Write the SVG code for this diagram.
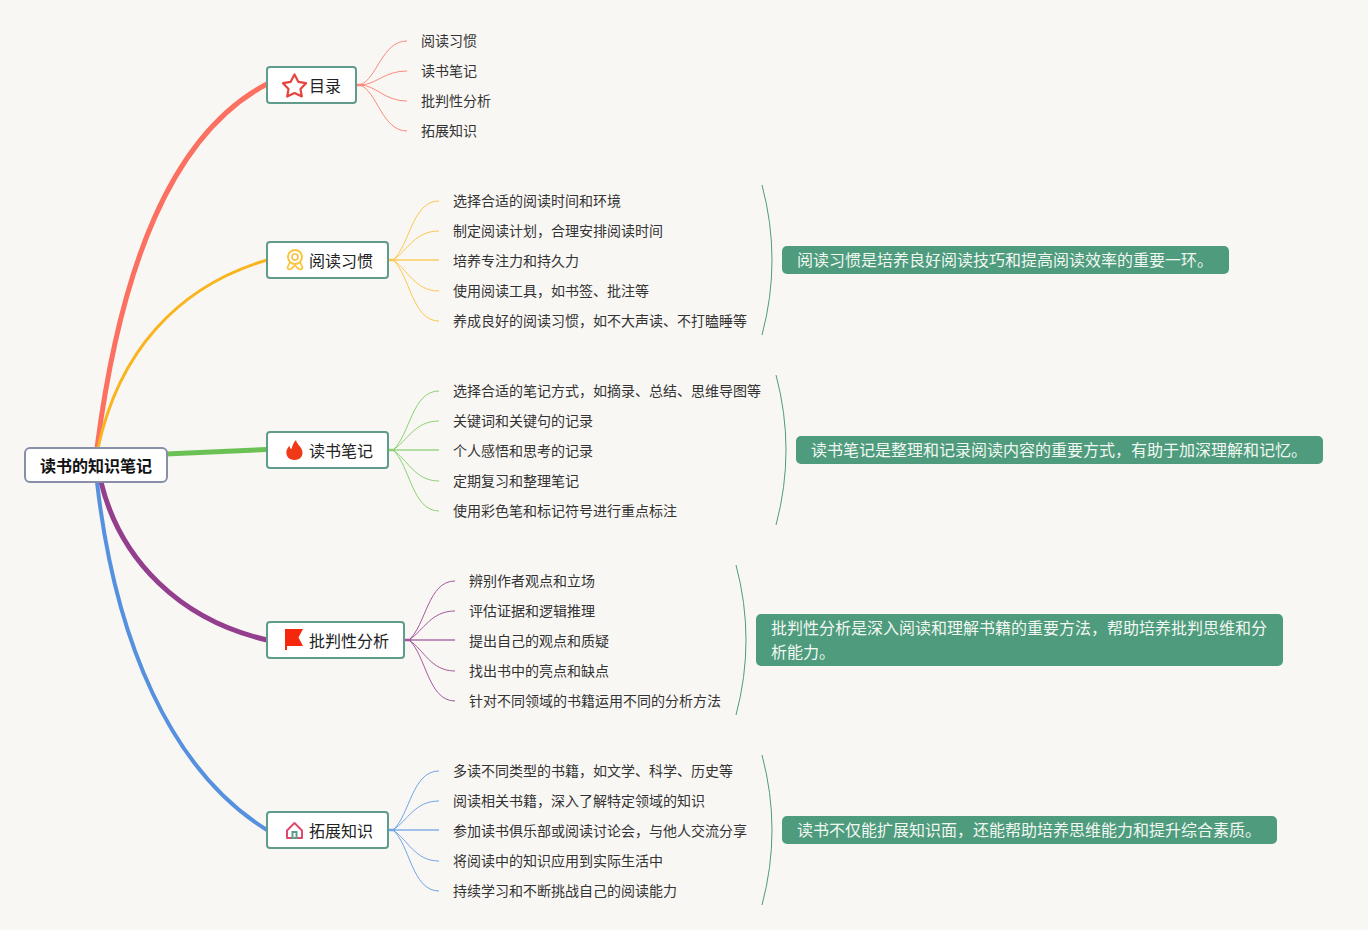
<svg xmlns="http://www.w3.org/2000/svg" width="1368" height="930" viewBox="0 0 1368 930">
<style>
text{font-family:"Liberation Sans","Noto Sans CJK SC",sans-serif;fill:#333}
.root rect{fill:#fff;stroke:#8a8fa8;stroke-width:2}
.root text{font-size:16px;font-weight:bold;fill:#111}
.main rect{fill:#fff;stroke:#5f9c8c;stroke-width:2}
.main text{font-size:16px;fill:#222}
.leaf{font-size:14px}
.note rect{fill:#4e9c7d}
.note text{font-size:16px;fill:#f2f7f2}
.thin{fill:none;stroke-width:1}
.mid{stroke-width:2;opacity:.65}
.stub{stroke-width:2.500;stroke-linecap:round}
.brace{fill:none;stroke:#4e9c7d;stroke-width:1}
.trunk{fill:none}
</style>
<rect width="1368" height="930" fill="#f9f7f4"/>
<g id="connectors">
<g class="trunk">
<path d="M97 448C120 270 170 135 267 84" stroke="#fb7060" stroke-width="5"/>
<path d="M98 448C118 355 175 287 267 260" stroke="#f9b41e" stroke-width="3"/>
<path d="M166 454L267 449.500" stroke="#6cc155" stroke-width="5"/>
<path d="M101 482C120 560 180 620 267 640" stroke="#943f8e" stroke-width="5"/>
<path d="M97 482C115 640 170 770 267 830" stroke="#5591de" stroke-width="4"/>
</g>
<g class="thin" stroke="#fb8a7c">
<path class="stub" d="M357 85H362"/>
<path d="M360 85C377 79 382 41 407 41"/><path d="M360 85C376 85 384 71 407 71"/><path d="M360 85C376 85 384 101 407 101"/><path d="M360 85C377 91 382 131 407 131"/>
</g>
<g class="thin" stroke="#fcc74e">
<path class="stub" d="M389 260H394"/>
<path d="M393 260C410 245 412 201 439 201"/><path d="M393 260C408 250 415 231 439 231"/><path class="mid" d="M389 260H439"/><path d="M393 260C408 270 415 291 439 291"/><path d="M393 260C410 275 412 321 439 321"/>
</g>
<g class="thin" stroke="#8bd275">
<path class="stub" d="M389 450H394"/>
<path d="M393 450C410 435 412 391 439 391"/><path d="M393 450C408 440 415 421 439 421"/><path class="mid" d="M389 450H439"/><path d="M393 450C408 460 415 481 439 481"/><path d="M393 450C410 465 412 511 439 511"/>
</g>
<g class="thin" stroke="#a4599f">
<path class="stub" d="M405 640H410"/>
<path d="M409 640C426 625 428 581 455 581"/><path d="M409 640C424 630 431 611 455 611"/><path class="mid" d="M405 640H455"/><path d="M409 640C424 650 431 671 455 671"/><path d="M409 640C426 655 428 701 455 701"/>
</g>
<g class="thin" stroke="#72a5e5">
<path class="stub" d="M389 830H394"/>
<path d="M393 830C410 815 412 771 439 771"/><path d="M393 830C408 820 415 801 439 801"/><path class="mid" d="M389 830H439"/><path d="M393 830C408 840 415 861 439 861"/><path d="M393 830C410 845 412 891 439 891"/>
</g>
<path class="brace" d="M762 185Q782 260 762 335"/>
<path class="brace" d="M776 375Q796 450 776 525"/>
<path class="brace" d="M736 565Q756 640 736 715"/>
<path class="brace" d="M762 755Q782 830 762 905"/>
</g>
<g id="root" class="root"><rect x="25" y="448" width="142" height="34" rx="5"/><text x="96" y="472" text-anchor="middle">读书的知识笔记</text></g>
<g id="n1" class="main"><rect x="267" y="67" width="89" height="36" rx="3"/>
<path d="M294.500 74.500L298.300 81.800L306 83.200L300.500 89L301.800 96.500L294.500 93L287.200 96.500L288.500 89L283 83.200L290.700 81.800Z" fill="#fff" stroke="#e5453a" stroke-width="2.200" stroke-linejoin="round"/>
<text x="309" y="92">目录</text></g>
<g id="n2" class="main"><rect x="267" y="242" width="121" height="36" rx="3"/>
<path d="M290 262L287.500 267.500Q288 270 291 269L293 267.500L295 265L297 267.500L299 269Q302 270 302.500 267.500L300 262Z" fill="#fff" stroke="#fcc63c" stroke-width="1.800" stroke-linejoin="round"/>
<circle cx="295" cy="257" r="7" fill="#fff" stroke="#fcc63c" stroke-width="2"/><circle cx="295" cy="257" r="3" fill="none" stroke="#f3b93a" stroke-width="1.500"/>
<text x="309" y="267">阅读习惯</text></g>
<g id="n3" class="main"><rect x="267" y="432" width="121" height="36" rx="3"/>
<path d="M296 440C296.500 444 300 445 302 450C304 456 300 460 294.500 460C289 460 285.500 456 286.500 451C287 448.500 288.500 447 289.500 445.500C289.500 448 290.500 449 291.500 449C292.500 446 293 443 296 440Z" fill="#f03a17"/>
<text x="309" y="457">读书笔记</text></g>
<g id="n4" class="main"><rect x="267" y="622" width="137" height="36" rx="3"/>
<path d="M285 629H303L298.500 637.500L303 646H287V650H285Z" fill="#f5270c"/>
<text x="309" y="647">批判性分析</text></g>
<g id="n5" class="main"><rect x="267" y="812" width="121" height="36" rx="3"/>
<path d="M287 830.500L294.500 823L302 830.500V838H287Z" fill="#fff" stroke="#dd4a6c" stroke-width="2" stroke-linejoin="round"/><rect x="292.500" y="832" width="4" height="6" fill="#d4245c"/>
<text x="309" y="837">拓展知识</text></g>
<g id="l1">
<text class="leaf" x="421" y="46">阅读习惯</text><text class="leaf" x="421" y="76">读书笔记</text><text class="leaf" x="421" y="106">批判性分析</text><text class="leaf" x="421" y="136">拓展知识</text>
</g>
<g id="l2">
<text class="leaf" x="453" y="206">选择合适的阅读时间和环境</text><text class="leaf" x="453" y="236">制定阅读计划，合理安排阅读时间</text><text class="leaf" x="453" y="266">培养专注力和持久力</text><text class="leaf" x="453" y="296">使用阅读工具，如书签、批注等</text><text class="leaf" x="453" y="326">养成良好的阅读习惯，如不大声读、不打瞌睡等</text>
</g>
<g id="l3">
<text class="leaf" x="453" y="396">选择合适的笔记方式，如摘录、总结、思维导图等</text><text class="leaf" x="453" y="426">关键词和关键句的记录</text><text class="leaf" x="453" y="456">个人感悟和思考的记录</text><text class="leaf" x="453" y="486">定期复习和整理笔记</text><text class="leaf" x="453" y="516">使用彩色笔和标记符号进行重点标注</text>
</g>
<g id="l4">
<text class="leaf" x="469" y="586">辨别作者观点和立场</text><text class="leaf" x="469" y="616">评估证据和逻辑推理</text><text class="leaf" x="469" y="646">提出自己的观点和质疑</text><text class="leaf" x="469" y="676">找出书中的亮点和缺点</text><text class="leaf" x="469" y="706">针对不同领域的书籍运用不同的分析方法</text>
</g>
<g id="l5">
<text class="leaf" x="453" y="776">多读不同类型的书籍，如文学、科学、历史等</text><text class="leaf" x="453" y="806">阅读相关书籍，深入了解特定领域的知识</text><text class="leaf" x="453" y="836">参加读书俱乐部或阅读讨论会，与他人交流分享</text><text class="leaf" x="453" y="866">将阅读中的知识应用到实际生活中</text><text class="leaf" x="453" y="896">持续学习和不断挑战自己的阅读能力</text>
</g>
<g id="note1" class="note"><rect x="782" y="246" width="447" height="28" rx="5"/><text x="797" y="266">阅读习惯是培养良好阅读技巧和提高阅读效率的重要一环。</text></g>
<g id="note2" class="note"><rect x="796" y="436" width="527" height="28" rx="5"/><text x="811" y="456">读书笔记是整理和记录阅读内容的重要方式，有助于加深理解和记忆。</text></g>
<g id="note3" class="note"><rect x="756" y="614" width="527" height="52" rx="5"/><text x="771" y="634">批判性分析是深入阅读和理解书籍的重要方法，帮助培养批判思维和分</text><text x="771" y="658">析能力。</text></g>
<g id="note4" class="note"><rect x="782" y="816" width="495" height="28" rx="5"/><text x="797" y="836">读书不仅能扩展知识面，还能帮助培养思维能力和提升综合素质。</text></g>
</svg>
